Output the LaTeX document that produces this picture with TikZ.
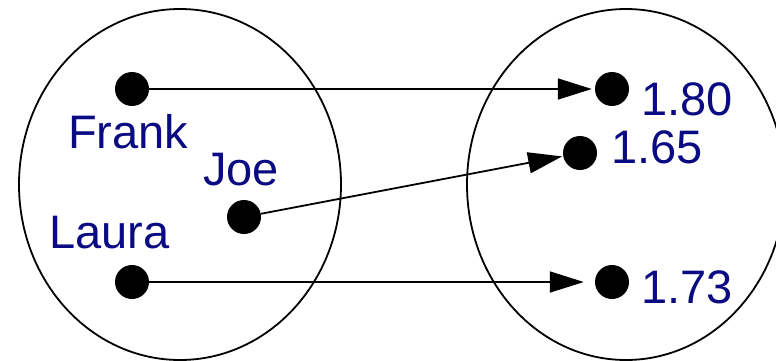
\documentclass[tikz,border=0pt]{standalone}
\usepackage{fontspec}
\setmainfont{Liberation Sans}
\usetikzlibrary{arrows.meta}
\definecolor{labelblue}{RGB}{10,10,130}
\begin{document}
\begin{tikzpicture}[x=1pt,y=-1pt,
  dot/.style={circle,fill=black,inner sep=0pt,minimum size=34pt},
  lbl/.style={anchor=base west,inner sep=0pt,text=labelblue,font=\fontsize{47}{50}\selectfont},
  map/.style={line width=1.8pt,-{Triangle[length=34pt,width=21pt]}},
  set/.style={line width=1.8pt}]
\useasboundingbox (0,0) rectangle (776,361);
\clip (0,0) rectangle (776,361);
\draw[set] (180,184.5) ellipse [x radius=161pt, y radius=175.5pt];
\draw[set] (626,184.5) ellipse [x radius=159pt, y radius=175.5pt];
\node[dot] (frank) at (132,89) {};
\node[dot] (joe) at (244,217) {};
\node[dot] (laura) at (132,282) {};
\node[dot] (h180) at (612,89) {};
\node[dot] (h165) at (580,153) {};
\node[dot] (h173) at (612,282) {};
\node[lbl] (tfrank) at (68,148) {Frank};
\node[lbl] (tjoe) at (203,185) {Joe};
\node[lbl] (tlaura) at (49,248) {Laura};
\node[lbl] (t180) at (641,115) {1.80};
\node[lbl] (t165) at (611,163) {1.65};
\node[lbl] (t173) at (641,303) {1.73};
\draw[map,shorten >=3pt] (frank) -- (h180);
\draw[map,shorten >=1pt] (joe) -- (h165);
\draw[map,shorten >=11pt] (laura) -- (h173);
\end{tikzpicture}
\end{document}
